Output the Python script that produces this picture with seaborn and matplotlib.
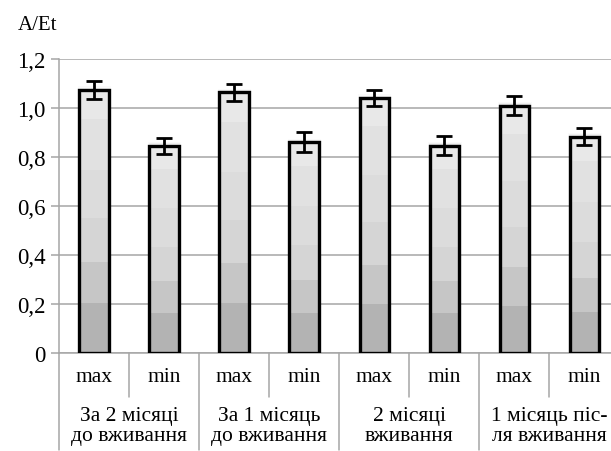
import numpy as np
import pandas as pd
import matplotlib
matplotlib.use("Agg")
import matplotlib.pyplot as plt
import seaborn as sns
from matplotlib.colors import ListedColormap

# ---- data ----
groups = ["За 2 місяці\nдо вживання", "За 1 місяць\nдо вживання",
          "2 місяці\nвживання", "1 місяць піс-\nля вживання"]
kinds = ["max", "min"]
values = [1.074, 0.846, 1.064, 0.860, 1.041, 0.847, 1.010, 0.883]
errors = [0.037, 0.033, 0.036, 0.041, 0.034, 0.040, 0.038, 0.034]
ytick_vals = [0, 0.2, 0.4, 0.6, 0.8, 1.0, 1.2]
ytick_labels = ["0", "0,2", "0,4", "0,6", "0,8", "1,0", "1,2"]
y_title = "A/Et"

labels = [f"{g}|{k}" for g in groups for k in kinds]
df = pd.DataFrame({"slot": labels, "value": values})

sns.set_theme(style="white")
SERIF = ["Liberation Serif", "DejaVu Serif"]
plt.rcParams["font.family"] = SERIF

W, H = 611, 452
fig = plt.figure(figsize=(W / 100, H / 100), dpi=100)
ax_left, ax_bottom = 59 / W, (H - 354.3) / H
ax_w, ax_h = 560.4 / W, (354.3 - 60) / H
ax = fig.add_axes([ax_left, ax_bottom, ax_w, ax_h])

sns.barplot(data=df, x="slot", y="value", ax=ax, color="#dddddd",
            width=0.42, edgecolor="black", linewidth=2.4, errorbar=None,
            order=labels)

# stepped grey gradient inside each bar (relative to bar height)
band_colors = ["#b3b3b3", "#c6c6c6", "#d5d5d5", "#dcdcdc", "#e1e1e1", "#e8e8e8"]
band_edges = [0.0, 0.191, 0.344, 0.511, 0.695, 0.885, 1.0]
nres = 400
frac = (np.arange(nres) + 0.5) / nres
idx = np.searchsorted(band_edges, frac, side="right") - 1
idx = np.clip(idx, 0, len(band_colors) - 1)
img = idx.reshape(-1, 1).astype(float)
cmap = ListedColormap(band_colors)

xs = []
for p in ax.patches:
    x0, w, h = p.get_x(), p.get_width(), p.get_height()
    xs.append(x0 + w / 2)
    # soft shadow
    for k, a in enumerate([0.06, 0.04, 0.02]):
        off = 0.012 * (k + 1)
        sh = plt.Rectangle((x0 - off * 0.5, 0), w + off * 1.5, h + off * 0.4,
                           facecolor="black", alpha=a, edgecolor="none", zorder=1.5)
        ax.add_patch(sh)
    im = ax.imshow(img, cmap=cmap, vmin=-0.5, vmax=len(band_colors) - 0.5,
                   origin="lower", extent=(x0, x0 + w, 0, h),
                   aspect="auto", interpolation="nearest", zorder=2)
    im.set_clip_path(p)
    p.set_facecolor("none")
    p.set_zorder(3)

ax.errorbar(xs, values, yerr=errors, fmt="none", ecolor="black",
            elinewidth=2.0, capsize=6, capthick=2.0, zorder=4)

ax.set_xlim(-0.5, len(labels) - 0.5)
ax.set_ylim(0, 1.2)
ax.set_yticks(ytick_vals)
ax.set_yticklabels(ytick_labels, family=SERIF)
ax.set_xlabel("")
ax.set_ylabel("")
ax.yaxis.grid(True, color="#a6a6a6", linewidth=1.1)
ax.set_axisbelow(True)
for s in ["top", "right"]:
    ax.spines[s].set_visible(False)
for s in ["left", "bottom"]:
    ax.spines[s].set_color("#a6a6a6")
    ax.spines[s].set_linewidth(1.1)
ax.tick_params(axis="y", which="major", length=5.5, width=1.1, color="#a6a6a6",
               labelsize=16.5, pad=4, left=True, labelcolor="black")
ax.set_xticks(range(len(labels)))
ax.set_xticklabels([k for g in groups for k in kinds], family=SERIF)
ax.tick_params(axis="x", which="major", length=0, pad=10, labelsize=15.5,
               labelcolor="black")

# category separators
trans = ax.get_xaxis_transform()
short = 44 / (354.3 - 60)
long_ = 97 / (354.3 - 60)
for i in range(len(groups)):
    ax.plot([2 * i + 0.5] * 2, [0, -short], transform=trans, color="#a6a6a6",
            lw=1.1, clip_on=False)
for i in range(len(groups) + 1):
    ax.plot([2 * i - 0.5] * 2, [0, -long_], transform=trans, color="#a6a6a6",
            lw=1.1, clip_on=False)
for i, g in enumerate(groups):
    ax.text(2 * i + 0.5, -72 / (354.3 - 60), g, transform=trans, ha="center",
            va="center", fontsize=15.5, linespacing=1.05, color="black",
            family=SERIF)

fig.text(18 / W, 1 - 25 / H, y_title, ha="left", va="center", fontsize=15,
         color="black", family=SERIF)

fig.savefig("out.png", dpi=100, facecolor="white")
